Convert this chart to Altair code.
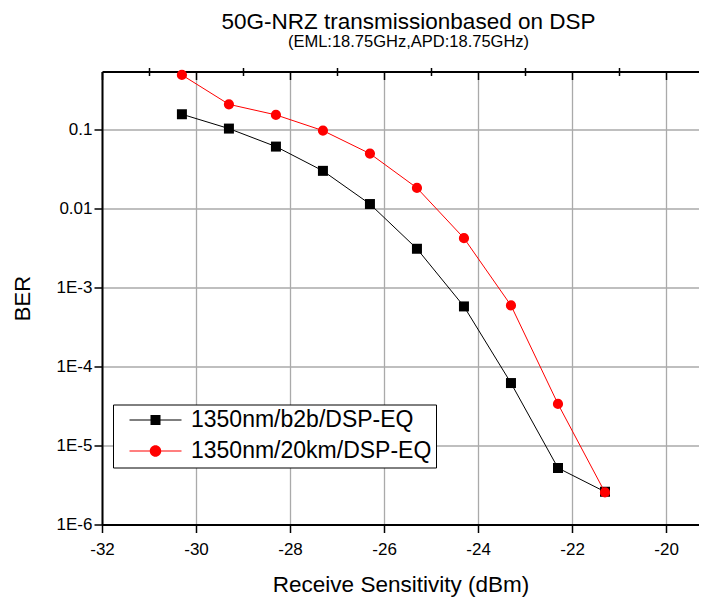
import altair as alt
import pandas as pd

# ---------------- data ----------------
x_dbm = [-30.3, -29.3, -28.3, -27.3, -26.3, -25.3, -24.3, -23.3, -22.3, -21.3]
ber_b2b = [0.158, 0.104, 0.0615, 0.0303, 0.0115, 0.00312, 5.8e-4, 6.2e-5, 5.2e-6, 2.6e-6]
ber_20km = [0.497, 0.211, 0.155, 0.098, 0.0501, 0.0184, 0.00425, 5.97e-4, 3.37e-5, 2.55e-6]
series_names = ["1350nm/b2b/DSP-EQ", "1350nm/20km/DSP-EQ"]
series_colors = ["#000000", "#ff0000"]

x_major = [-32, -30, -28, -26, -24, -22, -20]
x_minor = [-31, -29, -27, -25, -23, -21]
y_major = [1e-6, 1e-5, 1e-4, 1e-3, 1e-2, 1e-1]
y_minor = [float(f"{k}e{e}") for e in range(-6, 0) for k in range(2, 10)]
y_minor = [v for v in y_minor if v <= 0.55]

title_text = "50G-NRZ transmissionbased on DSP"
subtitle_text = "(EML:18.75GHz,APD:18.75GHz)"
x_title = "Receive Sensitivity (dBm)"
y_title = "BER"

df = pd.DataFrame({
    "x": x_dbm + x_dbm,
    "ber": ber_b2b + ber_20km,
    "series": [series_names[0]] * len(x_dbm) + [series_names[1]] * len(x_dbm),
})

# ---------------- styling ----------------
FONT = "Liberation Sans"
PLOT_W, PLOT_H = 597, 453
GRID = "#aaaaaa"
NBSP = "\u00a0"

xs = alt.Scale(domain=[-32, -19.3], nice=False, zero=False)
ys = alt.Scale(type="log", domain=[1e-6, 0.55], nice=False)

ax_x_main = alt.Axis(
    values=x_major, title=x_title, labelExpr="'' + datum.value", labelFlush=False,
    labelFont=FONT, labelFontSize=17, labelColor="black", labelPadding=9,
    tickSize=8, tickWidth=1.5, tickColor="black",
    domainColor="black", domainWidth=2,
    grid=True, gridColor=GRID, gridWidth=1.3,
    titleFont=FONT, titleFontSize=22.5, titleFontWeight="normal", titleColor="black",
    titlePadding=16,
)
ax_y_main = alt.Axis(
    values=y_major, title=y_title,
    labelExpr="datum.value >= 0.01 ? toString(datum.value) : '1E' + round(log(datum.value) / LN10)",
    labelFlush=False,
    labelFont=FONT, labelFontSize=17, labelColor="black", labelPadding=2,
    tickSize=8, tickWidth=1.5, tickColor="black",
    domainColor="black", domainWidth=2,
    grid=True, gridColor=GRID, gridWidth=1.3,
    titleFont=FONT, titleFontSize=22, titleFontWeight="normal", titleColor="black",
    titlePadding=22,
)
ax_x_minor = alt.Axis(values=x_minor, labels=False, domain=False, grid=False,
                      tickSize=4, tickWidth=1.5, tickColor="black", title=None)
ax_y_minor = alt.Axis(values=y_minor, labels=False, domain=False, grid=False,
                      tickSize=4, tickWidth=1.2, tickColor="black", title=None)
ax_x_top = alt.Axis(orient="bottom", offset=-PLOT_H, values=x_major, labels=False,
                    grid=False, domain=True, domainColor="black", domainWidth=2,
                    tickSize=8, tickWidth=1.5, tickColor="black", title=None)
ax_x_top_minor = alt.Axis(orient="bottom", offset=-PLOT_H, values=x_minor, labels=False,
                          grid=False, domain=False,
                          tickSize=4, tickWidth=1.5, tickColor="black", title=None)

leg = alt.Legend(
    title=None, orient="none", legendX=11, legendY=333, direction="vertical",
    padding=4, rowPadding=7, symbolOffset=27, labelOffset=24,
    symbolSize=100, symbolStrokeWidth=0, symbolOpacity=1,
    labelFont=FONT, labelFontSize=23, labelColor="black", labelLimit=500,
    labelExpr="datum.label + '" + NBSP + "'",
    strokeColor="black", fillColor="white", cornerRadius=0,
)
legend_paths = [
    "M-5.2,-0.1H5.2V0.1H-5.2Z M-1,-1H1V1H-1Z",
    "M-5.2,-0.1H5.2V0.1H-5.2Z M1.15,0A1.15,1.15,0,1,1,-1.15,0A1.15,1.15,0,1,1,1.15,0Z",
]

base = alt.Chart(df)
b2b = base.transform_filter(alt.datum.series == series_names[0])
km20 = base.transform_filter(alt.datum.series == series_names[1])

black_line = b2b.mark_line(color=series_colors[0], strokeWidth=1).encode(
    x=alt.X("x:Q", scale=xs, axis=ax_x_main),
    y=alt.Y("ber:Q", scale=ys, axis=ax_y_main),
)
black_pts = b2b.mark_square(size=100, color=series_colors[0], opacity=1).encode(
    x=alt.X("x:Q", scale=xs, axis=ax_x_minor),
    y=alt.Y("ber:Q", scale=ys, axis=ax_y_minor),
)
red_line = km20.mark_line(color=series_colors[1], strokeWidth=1).encode(
    x=alt.X("x:Q", scale=xs, axis=ax_x_top),
    y=alt.Y("ber:Q", scale=ys, axis=None),
)
red_pts = km20.mark_circle(size=104, color=series_colors[1], opacity=1).encode(
    x=alt.X("x:Q", scale=xs, axis=ax_x_top_minor),
    y=alt.Y("ber:Q", scale=ys, axis=None),
)
legend_pts = base.mark_point(filled=True, opacity=0, size=100).encode(
    x=alt.X("x:Q", scale=xs, axis=None),
    y=alt.Y("ber:Q", scale=ys, axis=None),
    color=alt.Color("series:N", scale=alt.Scale(domain=series_names, range=series_colors), legend=leg),
    shape=alt.Shape("series:N", scale=alt.Scale(domain=series_names, range=legend_paths), legend=leg),
)

chart = alt.layer(black_line, black_pts, red_line, red_pts, legend_pts).resolve_axis(
    x="independent", y="independent"
).properties(
    width=PLOT_W, height=PLOT_H,
    autosize=alt.AutoSizeParams(type="none"),
    padding={"left": 94, "top": 63.5, "right": 0, "bottom": 80},
    title=alt.TitleParams(
        text=title_text, subtitle=subtitle_text, anchor="middle", frame="group", dx=8,
        offset=16, font=FONT, fontSize=22.5, fontWeight="normal", color="black",
        subtitleFont=FONT, subtitleFontSize=16.5, subtitleColor="black", subtitlePadding=1,
    ),
).configure_view(strokeOpacity=0).configure(background="white")

chart.save("out.html", embed_options={"renderer": "svg", "actions": False})
